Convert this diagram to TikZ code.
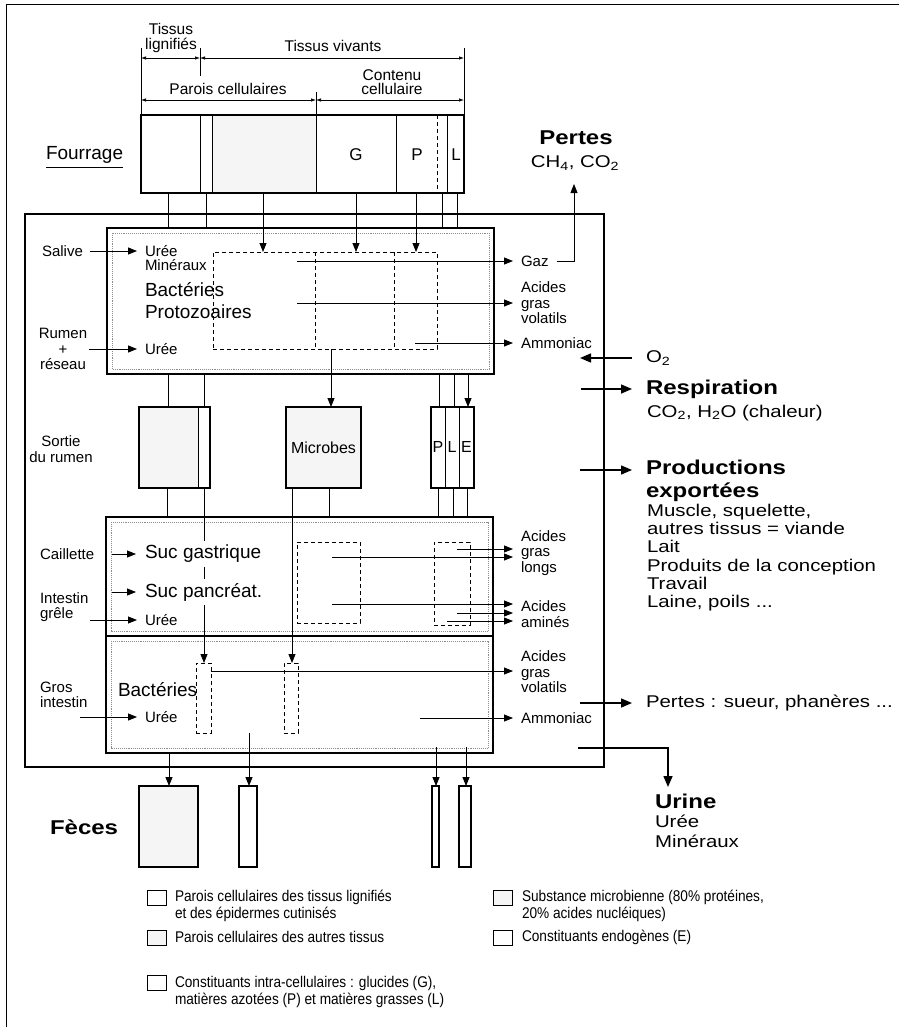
\documentclass[tikz,border=0pt]{standalone}
\usepackage{fontspec}
\setmainfont{Liberation Sans}
\newfontfamily\widef[FakeStretch=1.2]{Liberation Sans}
\newfontfamily\narrowf[FakeStretch=0.88]{Liberation Sans}
\usetikzlibrary{arrows.meta,calc}
\begin{document}
\begin{tikzpicture}[x=1pt,y=-1pt,
  every node/.style={inner sep=0pt, outer sep=0pt},
  box/.style={draw, line width=1.1pt, anchor=north west},
  stip/.style={fill=black!4},
  dbox/.style={draw, line width=0.9pt, dash pattern=on 4pt off 3pt, anchor=north west},
  dsh/.style={line width=0.9pt, dash pattern=on 4pt off 3pt},
  ln/.style={line width=0.8pt},
  arr/.style={line width=0.8pt, -{Triangle[length=9pt,width=7pt]}},
  bigarr/.style={line width=1.5pt, -{Triangle[length=11pt,width=9pt]}},
  dim/.style={line width=0.7pt, {Latex[length=5pt,width=3.5pt]}-{Latex[length=5pt,width=3.5pt]}},
  inbd/.style={densely dotted, line width=0.9pt, black!45},
  sm/.style={font=\fontsize{15}{15.5}\selectfont, align=left},
  lbl/.style={font=\fontsize{15.5}{14.5}\selectfont, align=center},
  big/.style={font=\fontsize{19}{22}\selectfont, anchor=west, align=left},
  rl/.style={sm, anchor=west, inner xsep=8pt},
  ll/.style={sm, anchor=west},
  rt/.style={font=\widef\fontsize{17}{18.2}\selectfont, anchor=west, align=left},
  rtb/.style={font=\widef\bfseries\fontsize{20}{23}\selectfont, anchor=west, align=left},
  ro/.style={inner xsep=14pt},
  leg/.style={font=\narrowf\fontsize{15.5}{17}\selectfont, anchor=west, align=left},
  lbox/.style={draw, line width=0.8pt, minimum width=19pt, minimum height=15pt, anchor=north west}
]
\useasboundingbox (0,0) rectangle (899,1027);
% page border
\draw[line width=1pt] (6,1027) -- (6,5) -- (899,5);

% animal frame
\node[box, minimum width=579pt, minimum height=553pt] (frame) at (25,214) {};

% ---------- Fourrage ----------
\fill[stip] (212,115) rectangle (316,193);
\node[box, minimum width=323pt, minimum height=78pt] (four) at (141,115) {};
\foreach \x in {200,212,316,396,447} \draw[ln] (four.north -| \x,0) -- (four.south -| \x,0);
\draw[dsh] (four.north -| 437,0) -- (four.south -| 437,0);
\node[font=\fontsize{17}{17}\selectfont] (lG) at (356,155) {G};
\node[font=\fontsize{17}{17}\selectfont] (lP) at (417,155) {P};
\node[font=\fontsize{17}{17}\selectfont] (lL) at (456,155) {L};
\node[font=\fontsize{19}{22}\selectfont, anchor=west] (fourr) at (46,155) {Fourrage};
\draw[ln] ([yshift=-4pt]fourr.south west) -- ([yshift=-4pt]fourr.south east);

% dimension lines
\coordinate (tL) at (141,48);
\coordinate (tR) at (464,48);
\coordinate (tA) at (200,48);
\coordinate (tB) at (200,76);
\coordinate (tC) at (316,92);
\draw[ln] (tL) -- (four.north west);
\draw[ln] (tR) -- (four.north east);
\draw[ln] (tA) -- (tB);
\draw[ln] (tC) -- (four.north -| tC);
\draw[dim] (tL |- 0,58) -- (tA |- 0,58);
\draw[dim] (tA |- 0,58) -- (tR |- 0,58);
\draw[dim] (tL |- 0,100) -- (tC |- 0,100);
\draw[dim] (tC |- 0,100) -- (tR |- 0,100);
\node[lbl] (tlig) at (171,38) {Tissus\\lignifiés};
\node[lbl] (tviv) at (333,46) {Tissus vivants};
\node[lbl] (tpar) at (228,89) {Parois cellulaires};
\node[lbl] (tcon) at (392,82) {Contenu\\cellulaire};

% ---------- Rumen ----------
\node[box, minimum width=387pt, minimum height=146pt] (rumen) at (107,228) {};
\draw[inbd] (112,233) rectangle (489,369);
\node[dbox, minimum width=224pt, minimum height=97pt] (rd) at (213,252) {};
\draw[dsh] (rd.north -| 315,0) -- (rd.south -| 315,0);
\draw[dsh] (rd.north -| 394,0) -- (rd.south -| 394,0);

% ---------- Sortie du rumen ----------
\fill[stip] (139,407) rectangle (198,488);
\node[box, minimum width=71pt, minimum height=81pt] (s1) at (139,407) {};
\draw[ln] (s1.north -| 198,0) -- (s1.south -| 198,0);
\node[box, stip, minimum width=75pt, minimum height=81pt, font=\fontsize{16}{16}\selectfont] (mic) at (286,407) {Microbes};
\node[box, minimum width=43pt, minimum height=81pt] (ple) at (431,407) {};
\draw[ln] (ple.north -| 445,0) -- (ple.south -| 445,0);
\draw[ln] (ple.north -| 459,0) -- (ple.south -| 459,0);
\node[font=\fontsize{16}{16}\selectfont] (pP) at (438,447) {P};
\node[font=\fontsize{16}{16}\selectfont] (pL) at (452,447) {L};
\node[font=\fontsize{16}{16}\selectfont] (pE) at (466.5,447) {E};

% ---------- Caillette / intestins ----------
\node[box, minimum width=387pt, minimum height=119pt] (cail) at (106,517) {};
\node[box, minimum width=387pt, minimum height=117pt] (gros) at (106,636) {};
\draw[inbd] (111,522) rectangle (488,631);
\draw[inbd] (111,641) rectangle (488,748);
\node[dbox, minimum width=63pt, minimum height=81pt] (cd1) at (297,542) {};
\node[dbox, minimum width=36pt, minimum height=83pt] (cd2) at (434,542) {};
\node[dbox, minimum width=15pt, minimum height=70pt] (gd1) at (196,663) {};
\node[dbox, minimum width=14pt, minimum height=70pt] (gd2) at (284,663) {};

% ---------- Feces ----------
\node[box, stip, minimum width=59pt, minimum height=81pt] (f1) at (139,786) {};
\node[box, minimum width=18pt, minimum height=81pt] (f2) at (239,786) {};
\node[box, minimum width=7pt, minimum height=81pt] (f3) at (432,786) {};
\node[box, minimum width=12pt, minimum height=81pt] (f4) at (459,786) {};

% ---------- vertical flows ----------
\foreach \x in {168,206,442,457} \draw[ln] (four.south -| \x,0) -- (rumen.north -| \x,0);
\foreach \x in {263,356,416} \draw[arr] (four.south -| \x,0) -- (rd.north -| \x,0);
\foreach \x in {168,204} \draw[ln] (rumen.south -| \x,0) -- (s1.north -| \x,0);
\draw[arr] (rd.south -| 331,0) -- (mic.north -| 331,0);
\foreach \x in {439,454} \draw[ln] (rumen.south -| \x,0) -- (ple.north -| \x,0);
\draw[arr] (rumen.south -| 468,0) -- (ple.north -| 468,0);
\draw[ln] (s1.south -| 167,0) -- (cail.north -| 167,0);
\draw[arr] (s1.south -| 204,0) -- (gd1.north -| 204,0);
\draw[arr] (mic.south -| 292,0) -- (gd2.north -| 292,0);
\draw[ln] (mic.south -| 329,0) -- (cail.north -| 329,0);
\foreach \x in {438,453,467} \draw[ln] (ple.south -| \x,0) -- (cail.north -| \x,0);
\draw[arr] (gros.south -| 169,0) -- (f1.north -| 169,0);
\draw[arr] (gd1.south -| 249,0) -- (f2.north -| 249,0);
\draw[arr] ($(gros.south -| 436,0)+(0,-6)$) -- (f3.north -| 436,0);
\draw[arr] ($(gros.south -| 466,0)+(0,-6)$) -- (f4.north -| 466,0);

% ---------- rumen labels ----------
\node[ll, inner xsep=0pt] (sal) at (42,251) {Salive};
\node[rl] (ur1) at (137,251) {Urée};
\node[ll] (mine) at (145,265) {Minéraux};
\draw[arr] ([xshift=7pt]sal.east) -- (ur1.west);
\node[big] (bact) at (145,301) {Bactéries\\Protozoaires};
\node[sm, align=center] (rum) at (63,349) {Rumen\\+\\réseau};
\node[rl] (ur2) at (137,349) {Urée};
\draw[arr] ([xshift=2pt]rum.east) -- (ur2.west);
\node[ll, align=center, anchor=center] (sor) at (61,449) {Sortie\\du rumen};

\node[rl] (gaz) at (513,261) {Gaz};
\node[rl] (agv1) at (513,303) {Acides\\gras\\volatils};
\node[rl] (amm1) at (513,343) {Ammoniac};
\coordinate (rg) at (297,261);
\coordinate (ra) at (297,303);
\coordinate (rn) at (415,343);
\draw[arr] (rg) -- (gaz.west);
\draw[arr] (ra) -- (agv1.west);
\draw[arr] (rn) -- (amm1.west);

% ---------- Caillette labels ----------
\node[ll] (cai) at (40,554) {Caillette};
\node[big, fill=white, inner ysep=4pt] (sg) at (145,554) {Suc gastrique};
\node[big, fill=white, inner ysep=4pt] (sp) at (145,592) {Suc pancréat.};
\coordinate (c1) at (112,554);
\coordinate (c2) at (112,592);
\draw[arr, shorten >=9pt] (c1) -- (sg.west);
\draw[arr, shorten >=9pt] (c2) -- (sp.west);
\node[ll] (ig) at (40,607) {Intestin\\grêle};
\node[rl] (ur3) at (137,620) {Urée};
\coordinate (c3) at (90,620);
\draw[arr] (c3) -- (ur3.west);

\node[rl] (agl) at (513,553) {Acides\\gras\\longs};
\node[rl] (aam) at (513,614) {Acides\\aminés};
\coordinate (k1) at (332,557);
\coordinate (k2) at (457,549);
\coordinate (k3) at (332,604);
\coordinate (k4) at (457,613);
\coordinate (k5) at (447,621);
\draw[arr] (k1) -- (agl.west |- k1);
\draw[arr] (k2) -- (agl.west |- k2);
\draw[arr] (k3) -- (aam.west |- k3);
\draw[arr] (k4) -- (aam.west |- k4);
\draw[arr] (k5) -- (aam.west |- k5);

% ---------- Gros intestin labels ----------
\node[ll] (gi) at (40,695) {Gros\\intestin};
\node[big] (bact2) at (118,690) {Bactéries};
\node[rl] (ur4) at (137,717) {Urée};
\coordinate (g3) at (80,717);
\draw[arr] (g3) -- (ur4.west);
\node[rl] (agv2) at (513,672) {Acides\\gras\\volatils};
\node[rl] (amm2) at (513,718) {Ammoniac};
\draw[arr] (gd1.east |- 0,671) -- (agv2.west |- 0,671);
\coordinate (gn) at (420,718);
\draw[arr] (gn) -- (amm2.west);

% ---------- outside, right ----------
\node[rtb, anchor=center] (pertes) at (576,138) {Pertes};
\node[rt, anchor=center] (ch4) at (575,163) {CH\textsubscript{4}, CO\textsubscript{2}};
\coordinate (pt) at (574,184);
\draw[arr] (gaz.east) -| (pt);

\node[rt, ro] (o2) at (632,358) {O\textsubscript{2}};
\coordinate (o2e) at (580,358);
\draw[bigarr] (o2.west) -- (o2e);
\node[rtb, ro] (resp) at (632,389) {Respiration};
\coordinate (rs) at (581,389);
\draw[bigarr] (rs) -- (resp.west);
\node[rt] (co2) at (647,413) {CO\textsubscript{2}, H\textsubscript{2}O (chaleur)};
\node[rtb, ro] (prod) at (632,481) {Productions\\exportées};
\coordinate (ps) at (580,470);
\draw[bigarr] (ps) -- (prod.west |- ps);
\node[rt] (plist) at (647,557.5) {Muscle, squelette,\\autres tissus = viande\\Lait\\Produits de la conception\\Travail\\Laine, poils ...};
\node[rt, ro] (pert) at (632,703) {Pertes : sueur, phanères ...};
\coordinate (pe) at (580,703);
\draw[bigarr] (pe) -- (pert.west);

\node[rtb] (urine) at (655,801) {Urine};
\node[rt] (uu) at (655,821) {Urée};
\node[rt] (um) at (655,841) {Minéraux};
\coordinate (us) at (578,748);
\coordinate (ut) at (668,787);
\draw[bigarr] (us) -| (ut);

\node[rtb] (feces) at (50,827) {Fèces};

% ---------- legend ----------
\node[lbox] (lb1) at (147,890) {};
\node[leg] (lt1) at (175,905.5) {Parois cellulaires des tissus lignifiés\\et des épidermes cutinisés};
\node[lbox, stip] (lb2) at (147,930) {};
\node[leg] (lt2) at (175,937) {Parois cellulaires des autres tissus};
\node[lbox] (lb3) at (147,975) {};
\node[leg] (lt3) at (175,991.5) {Constituants intra-cellulaires : glucides (G),\\matières azotées (P) et matières grasses (L)};
\node[lbox, stip] (lb4) at (493,890) {};
\node[leg] (lt4) at (522,905.5) {Substance microbienne (80\% protéines,\\20\% acides nucléiques)};
\node[lbox] (lb5) at (493,930) {};
\node[leg] (lt5) at (522,937) {Constituants endogènes (E)};
\end{tikzpicture}
\end{document}
